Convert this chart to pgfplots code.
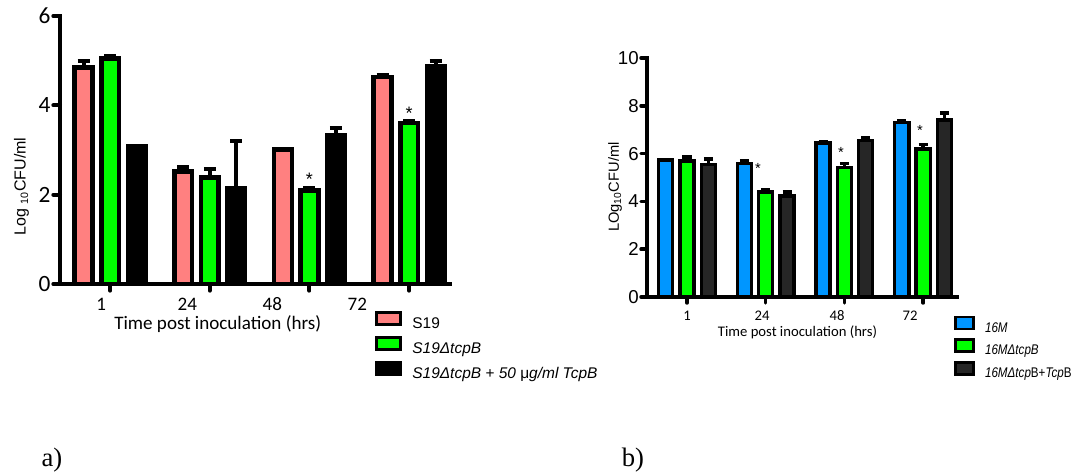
\documentclass[border=0pt]{standalone}
\usepackage{fontspec}
\setmainfont{Liberation Sans}
\newfontfamily\calibri{Carlito}
\newfontfamily\timesf{Liberation Serif}
\usepackage{graphicx}
\usepackage{pgfplots}
\pgfplotsset{compat=1.18}

\definecolor{wtpink}{RGB}{255,128,128}
\definecolor{mutgreen}{RGB}{0,255,0}
\definecolor{wtblue}{RGB}{0,150,255}
\definecolor{compdark}{RGB}{38,38,38}

% Bars of one series sit at (group + offset); offsets are written in the data.
\pgfplotsset{
  gpbase/.style={
    scale only axis,
    axis x line=bottom, axis y line=left,
    tick align=outside,
    xtick={0,1,2,3}, xticklabels={},
    ymin=0,
    clip mode=individual,
    error bars/y dir=plus, error bars/y explicit,
    /pgf/number format/assume math mode=true,
    legend cell align=left,
  },
  leftbox/.style={legend image code/.code={\draw[##1, line width=2.4pt] (0pt,-0.2pt) rectangle (18pt,8.8pt);}},
  rightbox/.style={legend image code/.code={\draw[##1, line width=2pt] (0pt,-0.74pt) rectangle (13.5pt,8.26pt);}},
}
\tikzset{
  labA/.style={font=\calibri\fontsize{14.3}{15}\selectfont, inner sep=0.2pt},
  labB/.style={font=\calibri\fontsize{11}{12}\selectfont, inner sep=0.2pt},
  starA/.style={font=\fontsize{13.5}{14}\selectfont, yshift=-3pt},
  starB/.style={font=\fontsize{11}{12}\selectfont, yshift=-2.5pt},
}

\begin{document}
\begin{tikzpicture}
\useasboundingbox (0,0) rectangle (808.5pt,-355.5pt);

% ---------------- panel a ----------------
\begin{axis}[gpbase,
  at={(45pt,-213pt)}, anchor=south west,
  width=292.5pt, height=201pt,
  xmin=-0.503, xmax=3.41, ymax=6, ytick={0,2,4,6},
  axis line style={-, black, line width=3.6pt, line cap=rect},
  tick style={line width=3pt, black, line cap=round}, major tick length=5pt,
  yticklabel style={font=\calibri\fontsize{17.5}{18}\selectfont, inner sep=2pt},
  bar width=0.178,
  error bars/error bar style={line width=3pt, black},
  error bars/error mark options={rotate=90, mark size=4.5pt, line width=3pt, black},
  ylabel={Log \textsubscript{10}CFU/ml},
  ylabel style={at={(axis description cs:-0.0987,0.364)}, anchor=center, font=\fontsize{12}{12}\selectfont},
  legend style={at={(axis description cs:0.806,-0.0996)}, anchor=north west,
    draw=none, fill=none, inner sep=0pt, row sep=0pt, column sep=7.9pt,
    font=\fontsize{11.6}{14}\selectfont,
    nodes={inner sep=0pt, text height=12pt, text depth=5.6pt}},
]
\addplot[ybar, bar shift=0, fill=wtpink, draw=black, line width=3.4pt, leftbox]
  coordinates {(-0.266,4.85) +- (0,0.14) (0.734,2.52) +- (0,0.10) (1.734,3.01) +- (0,0.02) (2.734,4.63) +- (0,0.06)};
\addlegendentry{S19}
\addplot[ybar, bar shift=0, fill=mutgreen, draw=black, line width=3.4pt, leftbox]
  coordinates {(0,5.05) +- (0,0.05) (1,2.39) +- (0,0.18) (2,2.09) +- (0,0.07) (3,3.60) +- (0,0.06)};
\addlegendentry{\itshape S19ΔtcpB}
\addplot[ybar, bar shift=0, fill=black, draw=black, line width=3.4pt, leftbox]
  coordinates {(0.266,3.08) +- (0,0) (1.266,2.15) +- (0,1.05) (2.266,3.32) +- (0,0.18) (3.266,4.88) +- (0,0.11)};
\addlegendentry{\itshape S19ΔtcpB + 50 {\upshape μ}g/ml TcpB}

% time labels under the groups
\node[labA] at (axis cs:-0.09,-0.45) {1};
\node[labA] at (axis cs:0.774,-0.45) {24};
\node[labA] at (axis cs:1.628,-0.45) {48};
\node[labA] at (axis cs:2.48,-0.45) {72};
\node[labA] at (axis cs:1.08,-0.90) {Time post inoculation (hrs)};
% significance marks
\node[starA] at (axis cs:2,2.44) {*};
\node[starA] at (axis cs:3,3.92) {*};
\end{axis}

% ---------------- panel b ----------------
\begin{axis}[gpbase,
  at={(485.25pt,-222.75pt)}, anchor=south west,
  width=232.5pt, height=179.25pt,
  xmin=-0.508, xmax=3.43, ymax=10, ytick={0,2,4,6,8,10},
  axis line style={-, black, line width=3.2pt, line cap=rect},
  tick style={line width=2.6pt, black, line cap=round}, major tick length=4.5pt,
  yticklabel style={font=\fontsize{14}{14}\selectfont, inner sep=1.5pt},
  bar width=0.178,
  error bars/error bar style={line width=2.6pt, black},
  error bars/error mark options={rotate=90, mark size=3.4pt, line width=2.6pt, black},
  ylabel={LOg\textsubscript{10}CFU/ml},
  ylabel style={at={(axis description cs:-0.103,0.46)}, anchor=center, font=\fontsize{11}{11}\selectfont},
  legend style={at={(axis description cs:0.989,-0.0766)}, anchor=north west,
    draw=none, fill=none, inner sep=0pt, row sep=0pt, column sep=7.9pt,
    font=\fontsize{10.5}{12}\selectfont,
    nodes={inner sep=0pt, text height=11pt, text depth=4.75pt}},
]
\addplot[ybar, bar shift=0, fill=wtblue, draw=black, line width=2.5pt, rightbox]
  coordinates {(-0.271,5.73) +- (0,0.03) (0.729,5.59) +- (0,0.13) (1.729,6.45) +- (0,0.06) (2.729,7.29) +- (0,0.10)};
\addlegendentry{\scalebox{0.83}[1]{\itshape 16M}}
\addplot[ybar, bar shift=0, fill=mutgreen, draw=black, line width=2.5pt, rightbox]
  coordinates {(0,5.69) +- (0,0.17) (1,4.40) +- (0,0.09) (2,5.42) +- (0,0.16) (3,6.19) +- (0,0.18)};
\addlegendentry{\scalebox{0.83}[1]{\itshape 16MΔtcpB}}
\addplot[ybar, bar shift=0, fill=compdark, draw=black, line width=2.5pt, rightbox]
  coordinates {(0.271,5.54) +- (0,0.24) (1.271,4.23) +- (0,0.16) (2.271,6.54) +- (0,0.13) (3.271,7.40) +- (0,0.30)};
\addlegendentry{\scalebox{0.83}[1]{\itshape 16MΔtcp\upshape B+\itshape Tcp\upshape B}}

\node[labB] at (axis cs:0,-0.795) {1};
\node[labB] at (axis cs:0.953,-0.795) {24};
\node[labB] at (axis cs:1.906,-0.795) {48};
\node[labB] at (axis cs:2.834,-0.795) {72};
\node[labB] at (axis cs:1.404,-1.48) {Time post inoculation (hrs)};
\node[starB] at (axis cs:0.902,5.52) {*};
\node[starB] at (axis cs:1.957,6.19) {*};
\node[starB] at (axis cs:2.96,7.11) {*};
\end{axis}

% panel letters
\node[font=\timesf\fontsize{20}{20}\selectfont] at (39pt,-345pt) {a)};
\node[font=\timesf\fontsize{20}{20}\selectfont] at (474.75pt,-345pt) {b)};
\end{tikzpicture}
\end{document}
